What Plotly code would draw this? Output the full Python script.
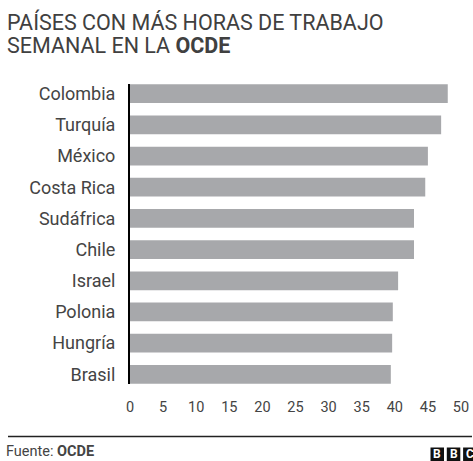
import plotly.graph_objects as go

countries = ["Colombia", "Turquía", "México", "Costa Rica", "Sudáfrica",
             "Chile", "Israel", "Polonia", "Hungría", "Brasil"]
hours = [48.0, 47.0, 45.0, 44.6, 42.9, 42.9, 40.5, 39.7, 39.6, 39.4]
x_ticks = [0, 5, 10, 15, 20, 25, 30, 35, 40, 45, 50]

W, H = 473, 461
ML, MR, MT, MB = 130, 12, 84, 77
PW = W - ML - MR
PH = H - MT - MB

def px(x):
    return (x - ML) / PW

def py(y):
    return (H - MB - y) / PH

TXT = "#444444"
FONT = "Roboto"

fig = go.Figure(go.Bar(
    x=hours, y=countries, orientation="h",
    marker=dict(color="#a7a8ab", line=dict(width=0)),
    width=0.6, hoverinfo="skip",
))

fig.update_layout(
    width=W, height=H,
    margin=dict(l=ML, r=MR, t=MT, b=MB, autoexpand=False),
    paper_bgcolor="white", plot_bgcolor="white",
    showlegend=False,
    font=dict(family=FONT, color=TXT),
    xaxis=dict(
        range=[0, 50], tickvals=x_ticks, ticktext=[str(t) for t in x_ticks],
        showgrid=False, zeroline=False, showline=False,
        ticks="outside", ticklen=10, tickcolor="rgba(0,0,0,0)",
        tickfont=dict(family=FONT, size=14.5, color=TXT),
        fixedrange=True, automargin=False,
    ),
    yaxis=dict(
        categoryorder="array", categoryarray=countries[::-1],
        range=[-0.31, 9.31],
        showgrid=False, zeroline=False,
        showline=True, linecolor="black", linewidth=2,
        ticks="outside", ticklen=9, tickcolor="rgba(0,0,0,0)",
        tickfont=dict(family=FONT, size=18, color=TXT),
        fixedrange=True, automargin=False,
    ),
)

shapes = [
    dict(type="line", xref="paper", yref="paper",
         x0=px(8), x1=px(472), y0=py(436.5), y1=py(436.5),
         line=dict(color="#222222", width=1.5)),
]
annotations = [
    dict(text="PAÍSES CON MÁS HORAS DE TRABAJO", xref="paper", yref="paper",
         x=px(5), y=py(21.5), xanchor="left", yanchor="middle",
         showarrow=False, font=dict(family=FONT, size=21.5, color="#404040")),
    dict(text="SEMANAL EN LA <b>OCDE</b>", xref="paper", yref="paper",
         x=px(5), y=py(45.5), xanchor="left", yanchor="middle",
         showarrow=False, font=dict(family=FONT, size=21.5, color="#404040")),
    dict(text="Fuente: <b>OCDE</b>", xref="paper", yref="paper",
         x=px(4), y=py(451.5), xanchor="left", yanchor="middle",
         showarrow=False, font=dict(family=FONT, size=14.5, color=TXT)),
]
for i, letter in enumerate(["B", "B", "C"]):
    x0 = 430.5 + i * 16.3
    shapes.append(dict(type="rect", xref="paper", yref="paper",
                       x0=px(x0), x1=px(x0 + 13.5), y0=py(447.5), y1=py(461.5),
                       fillcolor="#111111", line=dict(width=0)))
    annotations.append(dict(text=f"<b>{letter}</b>", xref="paper", yref="paper",
                            x=px(x0 + 6.75), y=py(454.5), xanchor="center", yanchor="middle",
                            showarrow=False, font=dict(family="Roboto", size=12, color="white")))

fig.update_layout(shapes=shapes, annotations=annotations)
fig.write_html("out.html", config={"displayModeBar": False})
